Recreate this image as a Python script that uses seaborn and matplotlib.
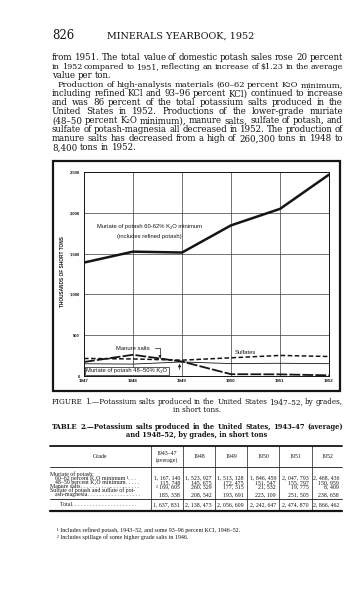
import matplotlib
matplotlib.use("Agg")
import pandas as pd
import seaborn as sns
import matplotlib.pyplot as plt
from matplotlib.lines import Line2D
from matplotlib.patches import Rectangle

# chart values, thousands of short tons (1947)
years = [1947, 1948, 1949, 1950, 1951, 1952]
muriate_60 = [1390, 1524, 1513, 1846, 2048, 2468]
muriate_48 = [150, 146, 172, 152, 156, 151]
manure = [172, 260, 177, 22, 20, 8]
sulfates = [215, 209, 194, 223, 252, 239]
grades = ["Muriate 60-62", "Muriate 48-50", "Manure salts", "Sulfates"]
y_ticks = [0, 500, 1000, 1500, 2000, 2500]

# table 2 values, short tons
col_heads = ["1943–47\n(average)", "1948", "1949", "1950", "1951", "1952"]
t_high = [1167140, 1523927, 1513128, 1846459, 2047793, 2468436]
t_low = [115748, 145675, 172475, 151547, 155797, 150959]
t_manure = [169605, 260329, 177315, 21532, 19775, 8409]
t_sulf = [185338, 208542, 193691, 223109, 251505, 238658]
t_total = [1637831, 2138473, 2056609, 2242647, 2474870, 2866462]

body = [
    ("from 1951.  The total value of domestic potash sales rose 20 percent", True, 0),
    ("in 1952 compared to 1951, reflecting an increase of \\$1.23 in the average", True, 0),
    ("value per ton.", False, 0),
    ("Production of high-analysis materials (60–62 percent K₂O minimum,", True, 6),
    ("including refined KCl and 93–96 percent KCl) continued to increase", True, 0),
    ("and was 86 percent of the total potassium salts produced in the", True, 0),
    ("United States in 1952.  Productions of the lower-grade muriate", True, 0),
    ("(48–50 percent K₂O minimum), manure salts, sulfate of potash, and", True, 0),
    ("sulfate of potash-magnesia all decreased in 1952.  The production of", True, 0),
    ("manure salts has decreased from a high of 260,300 tons in 1948 to", True, 0),
    ("8,400 tons in 1952.", False, 0),
]

W, H = 364, 600
serif = ["DejaVu Serif"]
tserif = ["Liberation Serif", "DejaVu Serif"]
sans = ["Liberation Sans", "DejaVu Sans"]
ink = "#151515"

sns.set_style("white")
plt.rcParams["font.family"] = tserif

fig = plt.figure(figsize=(W / 100, H / 100), dpi=100)
rend = fig.canvas.get_renderer()


def fx(x):
    return x / W


def fy(y):
    return 1 - y / H


def word_width(text, size, weight):
    tot = 0
    for w in text.split():
        t = fig.text(0, 0, w, fontsize=size, family=serif, weight=weight)
        tot += t.get_window_extent(rend).width
        t.remove()
    return tot


def max_size(s, ind, base, weight="normal", x0=52, x1=343, min_gap=2.0):
    return base * (x1 - x0 - ind - min_gap * (len(s.split()) - 1)) / word_width(s, base, weight)


def put_line(text, y, size, justify=True, indent=0, x0=52, x1=343, weight="normal"):
    words = text.split()
    objs = [fig.text(0, fy(y), w, fontsize=size, family=serif, va="baseline",
                     weight=weight, color=ink) for w in words]
    wid = [o.get_window_extent(rend).width for o in objs]
    gap = size * 100 / 72 * 0.3
    if justify and len(words) > 1:
        gap = (x1 - x0 - indent - sum(wid)) / (len(words) - 1)
    x = x0 + indent
    for o, w in zip(objs, wid):
        o.set_x(fx(x))
        x += w + gap


def hline(x0, x1, y, lw):
    fig.add_artist(Line2D([fx(x0), fx(x1)], [fy(y), fy(y)], color=ink, lw=lw))


def vline(x, y0, y1, lw):
    fig.add_artist(Line2D([fx(x), fx(x)], [fy(y0), fy(y1)], color=ink, lw=lw))


# page head and text
fig.text(fx(52), fy(39), "826", fontsize=8.5, family=serif, color=ink, va="baseline")
fig.text(fx(181), fy(39), "MINERALS YEARBOOK, 1952", fontsize=6.9, family=serif,
         color=ink, va="baseline", ha="center")
fits = sorted(max_size(s, ind, 6.0) for s, just, ind in body if just)
bsize = fits[len(fits) // 2]
for i, (txt, just, ind) in enumerate(body):
    size = min(bsize, max_size(txt, ind, 6.0)) if just else bsize
    put_line(txt, 60 + 9.05 * i, size, just, ind)

# chart frame
fig.add_artist(Rectangle((fx(53), fy(391)), fx(340) - fx(53), fy(161) - fy(391),
                         fill=False, ec=ink, lw=1.6))

ax = fig.add_axes([fx(84), fy(376), fx(329) - fx(84), fy(172) - fy(376)])
df = pd.DataFrame({
    "year": years * 4,
    "tons": muriate_60 + muriate_48 + manure + sulfates,
    "grade": [g for g in grades for _ in years],
})
sns.lineplot(data=df, x="year", y="tons", hue="grade", style="grade", size="grade",
             palette={g: ink for g in grades},
             dashes={grades[0]: "", grades[1]: "", grades[2]: (6, 1.2), grades[3]: (3, 1.6)},
             sizes={grades[0]: 1.8, grades[1]: 0.6, grades[2]: 1.3, grades[3]: 1.1},
             legend=False, ax=ax)
ax.set_xlim(1947, 1952)
ax.set_ylim(0, 2500)
ax.set_xticks(years)
ax.set_yticks(y_ticks)
ax.set_xticklabels([str(y) for y in years], fontsize=3.2, family=sans, weight="bold")
ax.set_yticklabels([f"{v:,}" for v in y_ticks], fontsize=3.0, family=sans, weight="bold")
ax.tick_params(axis="y", length=2, width=0.5, pad=1, colors=ink)
ax.tick_params(axis="x", length=0, pad=2, colors=ink)
ax.grid(True, color="#3a3a3a", lw=0.5)
ax.set_xlabel("")
ax.set_ylabel("")
for s in ax.spines.values():
    s.set_linewidth(0.7)
    s.set_color(ink)
fig.text(fx(63), fy(272), "THOUSANDS OF SHORT TONS", rotation=90, fontsize=3.4,
         family=sans, weight="bold", ha="center", va="center", color=ink)

ax.text(1948.33, 1838, "Muriate of potash 60-62% K₂O minimum", fontsize=4.2, family=sans,
        ha="center", va="center", color=ink)
ax.text(1948.33, 1707, "(includes refined potash)", fontsize=4.2, family=sans,
        ha="center", va="center", color=ink)
ax.annotate("Manure salts", xy=(1948.55, 215), xytext=(1948.0, 343), fontsize=4.2,
            family=sans, ha="center", va="center", color=ink,
            arrowprops=dict(arrowstyle="-|>", lw=0.5, color=ink, mutation_scale=4,
                            shrinkA=1, shrinkB=0, connectionstyle="angle,angleA=0,angleB=90"))
ax.text(1950.3, 285, "Sulfates", fontsize=4.2, family=sans, ha="center", va="center", color=ink)
ax.text(1947.05, 62, "Muriate of potash 48–50% K₂O", fontsize=4.2, family=sans,
        ha="left", va="center", color=ink,
        bbox=dict(fc="white", ec=ink, lw=0.5, pad=0.8))
ax.annotate("", xy=(1948.95, 148), xytext=(1948.95, 80),
            arrowprops=dict(arrowstyle="-|>", lw=0.5, color=ink, mutation_scale=4,
                            shrinkA=0, shrinkB=0))

# figure caption and table title
cap = "FIGURE 1.—Potassium salts produced in the United States 1947–52, by grades,"
csize = max_size(cap, 0, 5.0, min_gap=1.8)
put_line(cap, 404, csize)
fig.text(fx(197), fy(411.5), "in short tons.", fontsize=csize, family=serif, ha="center",
         va="baseline", color=ink)
ttl = "TABLE 2.—Potassium salts produced in the United States, 1943–47 (average)"
tsize = max_size(ttl, 0, 5.0, "bold", min_gap=1.8)
put_line(ttl, 429, tsize, weight="bold")
fig.text(fx(197), fy(437), "and 1948–52, by grades, in short tons", fontsize=tsize,
         family=serif, weight="bold", ha="center", va="baseline", color=ink)

# table
col_x = [151, 183, 215, 247, 279, 312, 342]
hline(50, 342, 446, 1.3)
hline(50, 342, 467, 0.6)
hline(50, 342, 499, 0.6)
hline(50, 342, 511, 1.6)
for x in col_x[:-1]:
    vline(x, 446, 511, 0.5)
ts = 4.2
fig.text(fx(100), fy(457), "Grade", fontsize=ts, ha="center", va="center", color=ink)
for i, h in enumerate(col_heads):
    fig.text(fx((col_x[i] + col_x[i + 1]) / 2), fy(457), h, fontsize=ts, ha="center",
             va="center", color=ink, linespacing=1.1)

labels = [
    (50, 474, "Muriate of potash:"),
    (55, 478.3, "60–62 percent K₂O minimum ¹. . ."),
    (55, 482.4, "48–50 percent K₂O minimum. . . . ."),
    (50, 486.5, "Manure salts. . . . . . . . . . . . . . . . . . . ."),
    (50, 490.6, "Sulfate of potash and sulfate of pot-"),
    (55, 494.7, "ash-magnesia. . . . . . . . . . . . . . . . . ."),
    (60, 505, "Total. . . . . . . . . . . . . . . . . . . . . ."),
]
for x, y, s in labels:
    fig.text(fx(x), fy(y), s, fontsize=ts, va="center", color=ink)


def fmt(v):
    return f"{v:,}".replace(",", ", ")


rows = [(478.3, t_high), (482.4, t_low), (486.5, t_manure), (494.7, t_sulf), (505, t_total)]
for y, vals in rows:
    for i, v in enumerate(vals):
        s = fmt(v)
        if vals is t_manure and i == 0:
            s = "² " + s
        fig.text(fx(col_x[i + 1] - 3), fy(y), s, fontsize=ts, ha="right", va="center", color=ink)

fig.text(fx(57), fy(530), "¹ Includes refined potash, 1943–52, and some 93–96 percent KCl, 1946–52.",
         fontsize=4.3, va="center", color=ink)
fig.text(fx(57), fy(537.5), "² Includes spillage of some higher grade salts in 1946.",
         fontsize=4.3, va="center", color=ink)

fig.savefig("out.png", dpi=100, facecolor="white")
